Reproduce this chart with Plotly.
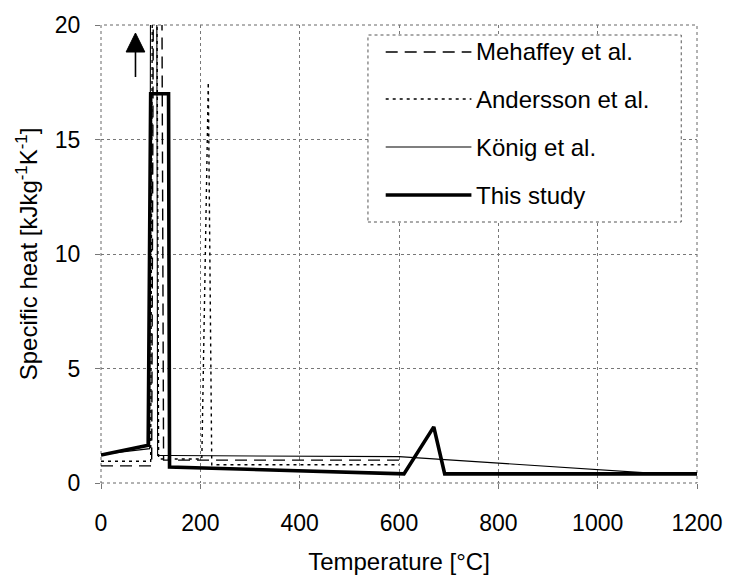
import plotly.graph_objects as go

# Specific heat of wood vs temperature, four models
mehaffey_T = [0, 102, 106, 122, 126, 600]
mehaffey_c = [0.75, 0.75, 25, 25, 1.0, 1.0]

andersson_T = [0, 100, 104, 112, 116, 203, 216, 223, 600]
andersson_c = [0.95, 0.95, 25, 25, 1.05, 1.05, 17.5, 0.8, 0.8]

konig_T = [0, 98, 100, 112, 114, 140, 600, 1130, 1200]
konig_c = [1.25, 1.5, 25, 25, 1.2, 1.2, 1.15, 0.4, 0.4]

study_T = [0, 95, 100, 136, 138, 600, 610, 670, 692, 1200]
study_c = [1.22, 1.65, 17, 17, 0.7, 0.42, 0.4, 2.45, 0.4, 0.4]

series_names = ["Mehaffey et al.", "Andersson et al.", "König et al.", "This study"]
x_ticks = [0, 200, 400, 600, 800, 1000, 1200]
y_ticks = [0, 5, 10, 15, 20]

W, H = 735, 582
ML, MR, MT, MB = 101, 29, 25, 99
FONT = "Liberation Sans, Arial, sans-serif"

styles = [
    dict(width=1.4, dash="12px,7px"),
    dict(width=1.4, dash="3px,4px"),
    dict(width=1.1, dash="solid"),
    dict(width=3.6, dash="solid"),
]
data = [(mehaffey_T, mehaffey_c), (andersson_T, andersson_c),
        (konig_T, konig_c), (study_T, study_c)]

fig = go.Figure()
for (t, c), name, st in zip(data, series_names, styles):
    fig.add_trace(go.Scatter(x=t, y=c, mode="lines", name=name,
                             line=dict(color="black", **st),
                             showlegend=False, cliponaxis=True))

pw = W - ML - MR
ph = H - MT - MB


def px(xp):
    return (xp - ML) / pw


def py(yp):
    return (H - MB - yp) / ph


shapes = []
annotations = []

# legend box
shapes.append(dict(type="rect", xref="paper", yref="paper",
                   x0=px(372), x1=px(690), y0=py(222), y1=py(35),
                   line=dict(color="#555", width=1, dash="dot"),
                   fillcolor="white", layer="above"))
rows = [52, 99, 147, 195]
for name, st, yr in zip(series_names, styles, rows):
    shapes.append(dict(type="line", xref="paper", yref="paper",
                       x0=px(390), x1=px(477), y0=py(yr), y1=py(yr),
                       line=dict(color="black", **st), layer="above"))
    annotations.append(dict(text=name, xref="paper", yref="paper",
                            x=px(480), y=py(yr), xanchor="left", yanchor="middle",
                            showarrow=False,
                            font=dict(family=FONT, size=24, color="black")))

# plot frame
shapes.append(dict(type="rect", xref="paper", yref="paper", x0=0, x1=1, y0=0, y1=1,
                   line=dict(color="#666", width=1, dash="dot"), layer="below"))

# upward arrow marking peaks beyond the axis range (shaft + filled head)
ax_x, ax_tail, ax_base, ax_tip = px(136), py(77), py(52), py(33)
hw = 9.5 / pw
shapes.append(dict(type="line", xref="paper", yref="paper",
                   x0=ax_x, x1=ax_x, y0=ax_tail, y1=ax_base,
                   line=dict(color="black", width=1.6)))
shapes.append(dict(type="path", xref="paper", yref="paper",
                   path=f"M {ax_x - hw} {ax_base} L {ax_x + hw} {ax_base} L {ax_x} {ax_tip} Z",
                   fillcolor="black", line=dict(color="black", width=1)))

axis_common = dict(showgrid=True, gridcolor="#777", griddash="dot", gridwidth=1,
                   zeroline=False, showline=False, ticks="outside", ticklen=5,
                   tickcolor="#777", tickfont=dict(family=FONT, size=23, color="black"))

fig.update_layout(
    width=W, height=H,
    margin=dict(l=ML, r=MR, t=MT, b=MB),
    paper_bgcolor="white", plot_bgcolor="white",
    shapes=shapes, annotations=annotations,
    xaxis=dict(range=[0, 1200], tickvals=x_ticks,
               title=dict(text="Temperature [°C]", standoff=18,
                          font=dict(family=FONT, size=24, color="black")),
               ticklabelstandoff=14, **axis_common),
    yaxis=dict(range=[0, 20], tickvals=y_ticks,
               title=dict(text="Specific heat [kJkg<sup>-1</sup>K<sup>-1</sup>]", standoff=10,
                          font=dict(family=FONT, size=24, color="black")),
               ticklabelstandoff=10, **axis_common),
)

fig.write_html("out.html")
